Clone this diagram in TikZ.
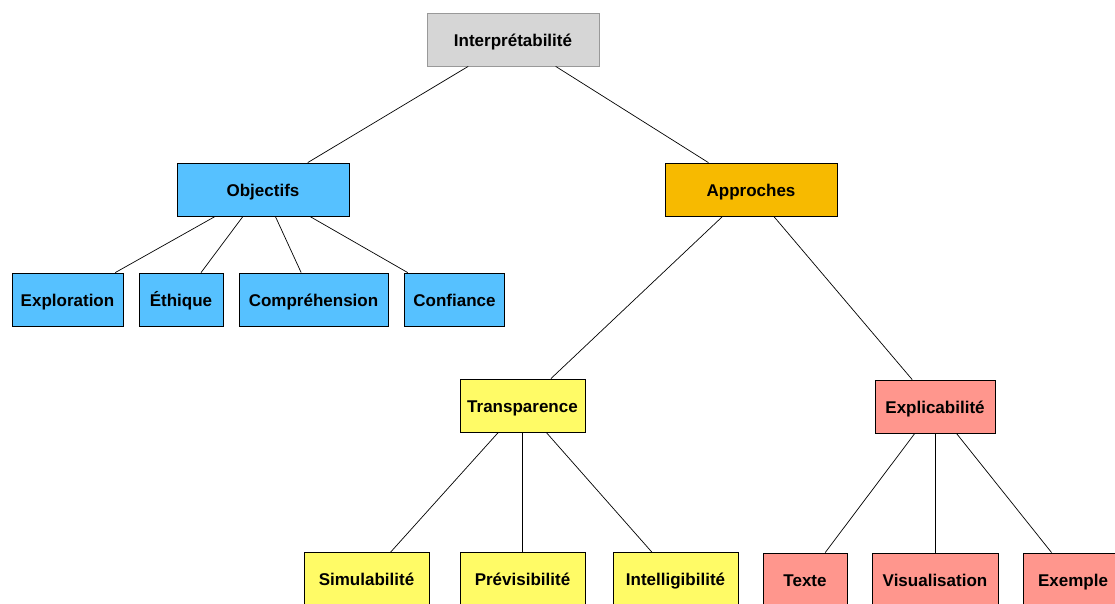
\documentclass[tikz,border=0pt]{standalone}
\usepackage{fontspec}
\setmainfont{Liberation Sans}

% Colours of the boxes
\definecolor{rootgray}{HTML}{D6D6D6}
\definecolor{goalblue}{HTML}{56C1FF}
\definecolor{waygold}{HTML}{F7BA00}
\definecolor{clearyellow}{HTML}{FFFB66}
\definecolor{explainpink}{HTML}{FF968D}

\tikzset{
  box/.style={draw=black, line width=0.8pt, inner sep=0pt, minimum height=53pt,
    text height=16pt, text depth=2.5pt, font=\bfseries\fontsize{17}{20}\selectfont},
  link/.style={draw=black, line width=0.7pt}
}

\begin{document}
\begin{tikzpicture}[x=1pt, y=-1pt]
        % Picture frame
        \clip (0,0) rectangle (1115,604);

        % Draw the root box
        \node[box, fill=rootgray, draw=gray!80, minimum width=172pt] (interp) at (513,39.5) {Interprétabilité};

        % Draw the two main branches
        \node[box, fill=goalblue, minimum width=172pt] (obj) at (263,189.5) {Objectifs};
        \node[box, fill=waygold, minimum width=172pt] (appr) at (751,189.5) {Approches};

        % Draw the goals
        \node[box, fill=goalblue, minimum width=111pt] (explo) at (67.5,299.5) {Exploration};
        \node[box, fill=goalblue, minimum width=84pt] (ethique) at (181,299.5) {Éthique};
        \node[box, fill=goalblue, minimum width=149pt] (compr) at (313.5,299.5) {Compréhension};
        \node[box, fill=goalblue, minimum width=100pt] (confi) at (454.5,299.5) {Confiance};

        % Draw the two approaches
        \node[box, fill=clearyellow, minimum width=125pt] (transp) at (522.5,405.5) {Transparence};
        \node[box, fill=explainpink, minimum width=120pt] (explic) at (935,406.5) {Explicabilité};

        % Draw the kinds of transparency
        \node[box, fill=clearyellow, minimum width=125pt] (simul) at (366.5,579) {Simulabilité};
        \node[box, fill=clearyellow, minimum width=125pt] (previs) at (522.5,579) {Prévisibilité};
        \node[box, fill=clearyellow, minimum width=125pt] (intell) at (675.5,579) {Intelligibilité};

        % Draw the kinds of explanation
        \node[box, fill=explainpink, minimum width=84pt] (texte) at (805,579.5) {Texte};
        \node[box, fill=explainpink, minimum width=126pt] (visual) at (935,579.5) {Visualisation};
        \node[box, fill=explainpink, minimum width=100pt] (exemple) at (1073,579.5) {Exemple};

        % Draw the links of the tree
        \draw[link] (interp) -- (obj);
        \draw[link] (interp) -- (appr);
        \foreach \kid in {explo, ethique, compr, confi}
          \draw[link] (obj) -- (\kid);
        \draw[link] (appr) -- (transp);
        \draw[link] (appr) -- (explic);
        \foreach \kid in {simul, previs, intell}
          \draw[link] (transp) -- (\kid);
        \foreach \kid in {texte, visual, exemple}
          \draw[link] (explic) -- (\kid);
      \end{tikzpicture}
\end{document}
